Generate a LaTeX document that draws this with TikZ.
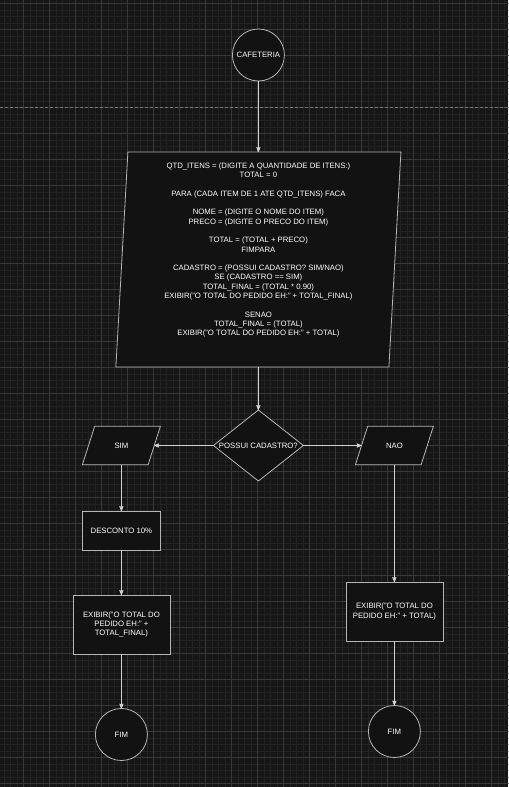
\documentclass[tikz,border=0pt]{standalone}
\usepackage{fontspec}
\setmainfont{Liberation Sans}
\usepackage{tikz}
\usetikzlibrary{arrows, shapes.geometric, positioning}
\definecolor{colorBackground}{HTML}{161616}
\definecolor{colorGridMinor}{HTML}{222222}
\definecolor{colorGridMajor}{HTML}{373737}
\definecolor{colorFill}{HTML}{121212}
\definecolor{colorBorder}{HTML}{B5B5B5}
\colorlet{colorTransition}{white!82!black}
\tikzset{
  shape base/.style={draw=colorBorder, fill=colorFill, text=white, thick, inner sep=0pt, outer sep=0pt,
    font=\fontsize{7.75}{9.4}\selectfont, align=center},
  terminal/.style={shape base, circle, minimum size=52pt},
  decision/.style={shape base, diamond, aspect=1.27, minimum width=90pt, minimum height=71pt},
  process/.style={shape base, rectangle, minimum width=78pt, minimum height=39pt},
  wide process/.style={shape base, rectangle, minimum width=97pt, minimum height=59pt},
  io/.style={shape base, trapezium, trapezium left angle=72.3, trapezium right angle=107.7,
    text width=53.4pt, text height=22.1pt, text depth=16.5pt},
  big io/.style={shape base, trapezium, trapezium left angle=86.8, trapezium right angle=93.2,
    text width=261pt, text height=215pt, text depth=0pt}
}

\begin{document}
\begin{tikzpicture}[>=stealth', thick]
% canvas
\fill[colorBackground] (0,0) rectangle (508pt,-787pt);
\begin{scope}
\clip (0,0) rectangle (508pt,-787pt);
\draw[colorGridMinor, line width=0.6pt, shift={(23.3pt,-3.3pt)}, step=6.5pt] (-30pt,30pt) grid (520pt,-800pt);
\draw[colorGridMajor, line width=0.8pt, shift={(23.3pt,-3.3pt)}, step=26pt] (-30pt,30pt) grid (520pt,-800pt);
\end{scope}
\draw[colorGridMajor!70!white, line width=0.8pt, dash pattern=on 3pt off 2pt] (0,-107pt) -- (508pt,-107pt);
\useasboundingbox (0,0) rectangle (508pt,-787pt);

\node[terminal] (q0) at (258pt,-55pt) {CAFETERIA};
\node[big io, below of =q0, node distance=204.5pt,
  label={[align=center, text=white, font=\fontsize{7.75}{9.3}\selectfont, yshift=9.5pt]center:{%
    QTD\_ITENS = (DIGITE A QUANTIDADE DE ITENS:)\\TOTAL = 0\\[9.3pt]
    PARA (CADA ITEM DE 1 ATE QTD\_ITENS) FACA\\[9.3pt]
    NOME = (DIGITE O NOME DO ITEM)\\PRECO = (DIGITE O PRECO DO ITEM)\\[9.3pt]
    TOTAL = (TOTAL + PRECO)\\FIMPARA\\[9.3pt]
    CADASTRO = (POSSUI CADASTRO? SIM/NAO)\\SE (CADASTRO == SIM)\\TOTAL\_FINAL = (TOTAL * 0.90)\\
    EXIBIR("O TOTAL DO PEDIDO EH:" + TOTAL\_FINAL)\\[9.3pt]
    SENAO\\TOTAL\_FINAL = (TOTAL)\\EXIBIR("O TOTAL DO PEDIDO EH:" + TOTAL)}}] (q1) {};
\node[decision, below of =q1, node distance=186pt] (q2) {POSSUI CADASTRO?};
\node[io, left of =q2, node distance=137pt] (q3) {SIM};
\node[io, right of =q2, node distance=136pt] (q4) {NAO};
\node[process, below of =q3, node distance=85pt] (q5) {DESCONTO 10\%};
\node[wide process, below of =q5, node distance=94pt] (q6) {EXIBIR("O TOTAL DO\\PEDIDO EH:" +\\TOTAL\_FINAL)};
\node[terminal, below of =q6, node distance=110pt] (q8) {FIM};
\node[wide process, below of =q4, node distance=166pt] (q7) {EXIBIR("O TOTAL DO\\PEDIDO EH:" + TOTAL)};
\node[terminal, below of =q7, node distance=120pt] (q9) {FIM};

\draw [->, colorTransition] (q0) edge [] (q1);
\draw [->, colorTransition] (q1) edge [] (q2);
\draw [->, colorTransition] (q2) edge [] (q3);
\draw [->, colorTransition] (q2) edge [] (q4);
\draw [->, colorTransition] (q3) edge [] (q5);
\draw [->, colorTransition] (q5) edge [] (q6);
\draw [->, colorTransition] (q6) edge [] (q8);
\draw [->, colorTransition] (q4) edge [] (q7);
\draw [->, colorTransition] (q7) edge [] (q9);
\end{tikzpicture}
\end{document}
